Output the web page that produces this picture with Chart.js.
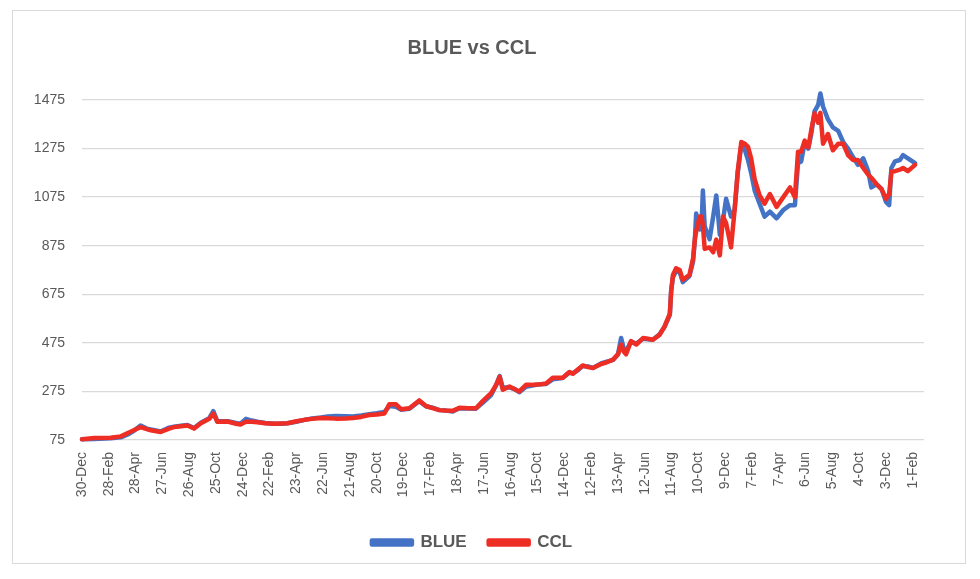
<!DOCTYPE html>
<html>
<head>
<meta charset="utf-8">
<script src="https://cdn.jsdelivr.net/npm/chart.js@4.4.1/dist/chart.umd.min.js"></script>
<style>
  html, body { margin: 0; padding: 0; background: #fff; }
  #wrap { width: 980px; height: 579px; }
</style>
</head>
<body>
<div id="wrap"><canvas id="chart"></canvas></div>
<script>
// days since 30-Dec-2019 for every sampled point
const days = [
    0, 27, 64, 87, 105, 117, 131, 145, 154, 176, 195, 206, 222, 236, 251, 266, 285, 294, 303, 326,
    345, 355, 367, 380, 393, 410, 430, 445, 460, 480, 498, 515, 535, 550, 568, 590, 606, 625, 643, 660,
    677, 688, 703, 714, 733, 755, 770, 785, 800, 815, 830, 845, 865, 882, 897, 916, 927, 935, 942, 957,
    968, 979, 994, 1005, 1017, 1028, 1039, 1054, 1076, 1091, 1099, 1110, 1121, 1133, 1144, 1162, 1175, 1189, 1200, 1207,
    1213, 1218, 1229, 1241, 1256, 1267, 1278, 1293, 1304, 1316, 1319, 1323, 1330, 1338, 1345, 1360, 1368, 1372, 1375, 1383,
    1387, 1390, 1394, 1405, 1413, 1420, 1428, 1435, 1442, 1453, 1461, 1468, 1476, 1484, 1491, 1498, 1506, 1517, 1528, 1540,
    1555, 1570, 1585, 1596, 1603, 1610, 1618, 1626, 1633, 1640, 1648, 1653, 1659, 1670, 1681, 1693, 1704, 1715, 1726, 1737,
    1749, 1760, 1767, 1779, 1790, 1800, 1807, 1812, 1820, 1831, 1838, 1849, 1865
]
const blue = [
    78, 79, 82, 86, 100, 114, 135, 122, 118, 110, 126, 130, 134, 137, 124, 146, 165, 194, 152, 152,
    145, 142, 162, 155, 150, 145, 142, 142, 144, 150, 158, 164, 168, 172, 174, 173, 172, 176, 181, 185,
    190, 215, 212, 200, 204, 235, 214, 208, 198, 196, 192, 206, 205, 204, 228, 260, 300, 338, 290, 292,
    285, 272, 294, 298, 302, 305, 306, 325, 330, 352, 350, 362, 380, 378, 372, 390, 398, 405, 428, 495,
    450, 440, 480, 472, 492, 490, 488, 510, 540, 590, 690, 745, 770, 767, 725, 750, 810, 900, 1008, 942,
    960, 1102, 955, 902, 995, 1082, 920, 980, 1068, 995, 1022, 1175, 1290, 1270, 1228, 1175, 1102, 1048, 995, 1015,
    988, 1022, 1042, 1042, 1215, 1222, 1300, 1275, 1340, 1428, 1455, 1502, 1448, 1395, 1362, 1348, 1302, 1275, 1240, 1208,
    1235, 1182, 1115, 1128, 1108, 1055, 1042, 1195, 1222, 1228, 1248, 1235, 1215
]
const ccl = [
    78, 83, 84, 90, 106, 116, 128, 120, 115, 108, 122, 128, 132, 135, 122, 144, 162, 184, 150, 151,
    142, 139, 150, 150, 148, 144, 142, 143, 144, 152, 158, 162, 166, 165, 163, 164, 166, 170, 178, 180,
    184, 222, 222, 202, 206, 238, 215, 206, 198, 196, 195, 208, 206, 206, 235, 268, 302, 335, 282, 295,
    285, 275, 302, 302, 304, 305, 308, 331, 331, 355, 348, 365, 382, 375, 371, 388, 395, 406, 428, 468,
    438, 428, 482, 468, 495, 492, 488, 508, 542, 595, 688, 755, 782, 775, 735, 755, 822, 902, 935, 995,
    995, 960, 862, 868, 848, 900, 835, 995, 968, 868, 1022, 1182, 1302, 1295, 1282, 1235, 1148, 1082, 1048, 1088,
    1035, 1075, 1115, 1075, 1262, 1262, 1308, 1280, 1355, 1420, 1382, 1422, 1295, 1335, 1268, 1295, 1295, 1248, 1228, 1228,
    1195, 1168, 1155, 1128, 1108, 1068, 1088, 1180, 1182, 1188, 1195, 1182, 1208
]
// one label every 60 days
const tickLabels = [
    '30-Dec', '28-Feb', '28-Apr', '27-Jun', '26-Aug', '25-Oct', '24-Dec', '22-Feb', '23-Apr', '22-Jun', '21-Aug',
    '20-Oct', '19-Dec', '17-Feb', '18-Apr', '17-Jun', '16-Aug', '15-Oct', '14-Dec', '12-Feb', '13-Apr', '12-Jun',
    '11-Aug', '10-Oct', '9-Dec', '7-Feb', '7-Apr', '6-Jun', '5-Aug', '4-Oct', '3-Dec', '1-Feb'
]
const tickStep = 60
const yTicks = [75, 275, 475, 675, 875, 1075, 1275, 1475]

const TEXT = '#595959'
const COLORS = {
    blue: '#4472C4',
    ccl: '#EE2E24',
    grid: '#D9D9D9'
}
const FONT = "'Liberation Sans', Arial, sans-serif"

function points(values){
    return values.map((v, i) => ({ x: days[i], y: v }))
}

// white background + thin frame like the spreadsheet chart
const frame = {
    id: 'frame',
    beforeDraw(chart){
        const c = chart.ctx
        c.save()
        c.fillStyle = '#fff'
        c.fillRect(0, 0, chart.width, chart.height)
        c.strokeStyle = COLORS.grid
        c.lineWidth = 1
        c.strokeRect(12.5, 10.5, 953, 553)
        c.restore()
    }
}

const ctx = document.getElementById('chart').getContext('2d')
new Chart(ctx, {
    type: 'line',
    data: {
        datasets: [
            { label: 'BLUE', data: points(blue), borderColor: COLORS.blue, backgroundColor: COLORS.blue, order: 2 },
            { label: 'CCL', data: points(ccl), borderColor: COLORS.ccl, backgroundColor: COLORS.ccl, order: 1 }
        ]
    },
    options: {
        responsive: true,
        maintainAspectRatio: false,
        animation: false,
        layout: { padding: { left: 20, right: 56, top: 0, bottom: 18 } },
        elements: {
            point: { radius: 0 },
            line: { borderWidth: 4.5, tension: 0, borderJoinStyle: 'round', borderCapStyle: 'round' }
        },
        datasets: { line: { clip: false } },
        scales: {
            x: {
                type: 'linear',
                min: 0,
                max: 1885,
                grid: { display: false, drawTicks: false },
                border: { display: false },
                afterBuildTicks: scale => {
                    scale.ticks = tickLabels.map((t, i) => ({ value: i * tickStep }))
                },
                afterFit: scale => { scale.height = 72 },
                ticks: {
                    autoSkip: false,
                    minRotation: 90,
                    maxRotation: 90,
                    padding: 12,
                    color: TEXT,
                    font: { family: FONT, size: 14 },
                    callback: (v) => tickLabels[Math.round(v / tickStep)]
                }
            },
            y: {
                min: 75,
                max: 1475,
                grid: { color: COLORS.grid, lineWidth: 1.3, drawTicks: false },
                border: { display: false },
                afterBuildTicks: scale => {
                    scale.ticks = yTicks.map(v => ({ value: v }))
                },
                afterFit: scale => { scale.width = 62 },
                ticks: {
                    padding: 17,
                    color: TEXT,
                    font: { family: FONT, size: 14 },
                    callback: v => String(v)
                }
            }
        },
        plugins: {
            title: {
                display: true,
                text: 'BLUE vs CCL',
                color: TEXT,
                font: { family: FONT, size: 20, weight: 'bold' },
                padding: { top: 36, bottom: 40 }
            },
            legend: {
                position: 'bottom',
                labels: {
                    boxWidth: 40,
                    boxHeight: 4,
                    padding: 22,
                    color: TEXT,
                    font: { family: FONT, size: 17, weight: 'bold' },
                    sort: (a, b) => a.datasetIndex - b.datasetIndex
                }
            },
            tooltip: { enabled: false }
        }
    },
    plugins: [frame]
})
</script>
</body>
</html>
